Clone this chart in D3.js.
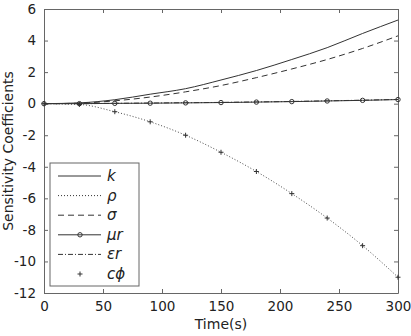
<!DOCTYPE html>
<html>
<head>
<meta charset="utf-8">
<script src="https://cdn.jsdelivr.net/npm/d3@7"></script>
<style>
  body { margin: 0; background: #fff; }
  text { font-family: "DejaVu Sans", sans-serif; fill: #222; }
</style>
</head>
<body>
<script>
// time points (s)
const times = [0, 30, 60, 90, 120, 150, 180, 210, 240, 270, 300];
const kVals = [0, 0.05, 0.25, 0.6, 0.95, 1.5, 2.1, 2.8, 3.55, 4.45, 5.3];
const rhoVals = [0, -0.05, -0.51, -1.15, -2.0, -3.08, -4.3, -5.7, -7.25, -9.0, -11.0];
const sigmaVals = [0, 0.03, 0.18, 0.42, 0.75, 1.15, 1.65, 2.2, 2.8, 3.5, 4.3];
const murVals = [0, 0.0, 0.02, 0.03, 0.05, 0.07, 0.1, 0.13, 0.17, 0.21, 0.26];
const erVals = [0, 0.0, 0.02, 0.04, 0.06, 0.08, 0.11, 0.14, 0.18, 0.22, 0.27];
const cphiVals = [0, -0.05, -0.51, -1.15, -2.0, -3.08, -4.3, -5.7, -7.25, -9.0, -11.0];
const xTicks = [0, 50, 100, 150, 200, 250, 300];
const yTicks = [6, 4, 2, 0, -2, -4, -6, -8, -10, -12];
const legendLabels = ["k", "ρ", "σ", "μr", "εr", "cϕ"];

const width = 411, height = 336;
const margin = {left: 44, right: 13, top: 9, bottom: 43};

const svg = d3.select("body").append("svg")
  .attr("width", width)
  .attr("height", height);

const x = d3.scaleLinear().domain([0, 300]).range([margin.left, width - margin.right]);
const y = d3.scaleLinear().domain([-12, 6]).range([height - margin.bottom, margin.top]);

const axisColor = "#666";
const lineColor = "#333";

// axes with inward ticks (box style)
const gx = svg.append("g")
  .attr("transform", `translate(0,${y(-12)})`)
  .call(d3.axisBottom(x).tickValues(xTicks).tickSizeInner(-4).tickSizeOuter(0).tickPadding(8));
const gxTop = svg.append("g")
  .attr("transform", `translate(0,${y(6)})`)
  .call(d3.axisTop(x).tickValues(xTicks).tickSizeInner(-4).tickSizeOuter(0).tickFormat(""));
const gy = svg.append("g")
  .attr("transform", `translate(${x(0)},0)`)
  .call(d3.axisLeft(y).tickValues(yTicks).tickSizeInner(-4).tickSizeOuter(0).tickPadding(8)
    .tickFormat(d => d < 0 ? "-" + Math.abs(d) : d));
const gyRight = svg.append("g")
  .attr("transform", `translate(${x(300)},0)`)
  .call(d3.axisRight(y).tickValues(yTicks).tickSizeInner(-4).tickSizeOuter(0).tickFormat(""));

[gx, gxTop, gy, gyRight].forEach(g => {
  g.select(".domain").attr("stroke", axisColor);
  g.selectAll(".tick line").attr("stroke", axisColor);
  g.selectAll(".tick text").attr("font-size", 13.5).attr("fill", "#222")
    .attr("font-family", "\"DejaVu Sans\", sans-serif");
});

// axis labels
svg.append("text")
  .attr("x", x(150))
  .attr("y", 329)
  .attr("text-anchor", "middle")
  .attr("font-size", 14)
  .text("Time(s)");

svg.append("text")
  .attr("transform", `translate(13,${y(-3)}) rotate(-90)`)
  .attr("text-anchor", "middle")
  .attr("font-size", 14)
  .text("Sensitivity Coefficients");

const line = d3.line().x((d, i) => x(times[i])).y(d => y(d)).curve(d3.curveMonotoneX);

const series = [
  {vals: kVals, dash: null},
  {vals: rhoVals, dash: "1,2"},
  {vals: sigmaVals, dash: "6,4"},
  {vals: murVals, dash: null},
  {vals: erVals, dash: "5,2,1,2"},
];

series.forEach(s => {
  svg.append("path")
    .datum(s.vals)
    .attr("d", line)
    .attr("fill", "none")
    .attr("stroke", lineColor)
    .attr("stroke-width", s.dash === "1,2" ? 0.9 : 1)
    .attr("stroke-dasharray", s.dash);
});

// mu_r circle markers
svg.selectAll(".mur-mark")
  .data(murVals)
  .enter()
  .append("circle")
  .attr("class", "mur-mark")
  .attr("cx", (d, i) => x(times[i]))
  .attr("cy", d => y(d))
  .attr("r", 2.2)
  .attr("fill", "none")
  .attr("stroke", lineColor);

// c_phi plus markers
svg.selectAll(".cphi-mark")
  .data(cphiVals)
  .enter()
  .append("path")
  .attr("class", "cphi-mark")
  .attr("d", "M-2.5,0H2.5M0,-2.5V2.5")
  .attr("transform", (d, i) => `translate(${x(times[i])},${y(d)})`)
  .attr("stroke", lineColor)
  .attr("fill", "none");

// legend
const lg = svg.append("g");
const lgLeft = 50, lgTop = 163, lgRight = 139, lgBottom = 286;
lg.append("rect")
  .attr("x", lgLeft).attr("y", lgTop)
  .attr("width", lgRight - lgLeft).attr("height", lgBottom - lgTop)
  .attr("fill", "#fff").attr("stroke", axisColor);

const rowY = d3.scaleLinear().domain([0, 5]).range([176, 274]);
legendLabels.forEach((lab, i) => {
  const yy = rowY(i);
  if (i < 5) {
    lg.append("line")
      .attr("x1", 58).attr("x2", 101)
      .attr("y1", yy).attr("y2", yy)
      .attr("stroke", lineColor)
      .attr("stroke-dasharray", series[i].dash);
  }
  if (i === 3) {
    lg.append("circle").attr("cx", 80).attr("cy", yy).attr("r", 2.2)
      .attr("fill", "none").attr("stroke", lineColor);
  }
  if (i === 5) {
    lg.append("path").attr("d", "M-2.5,0H2.5M0,-2.5V2.5")
      .attr("transform", `translate(80,${yy})`)
      .attr("stroke", lineColor);
  }
  lg.append("text")
    .attr("x", 107).attr("y", yy + 5)
    .attr("font-size", 15)
    .attr("font-style", "italic")
    .text(lab);
});
</script>
</body>
</html>
